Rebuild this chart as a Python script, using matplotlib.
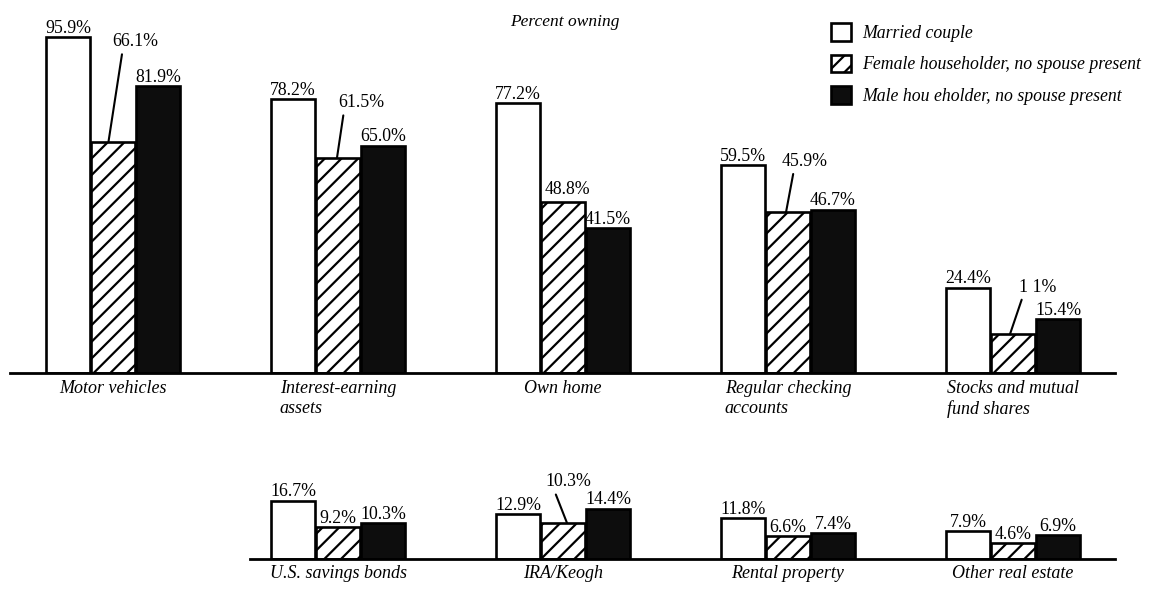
import numpy as np
import matplotlib
matplotlib.use("Agg")
import matplotlib.pyplot as plt
from matplotlib.patches import Patch

# ---------------- data ----------------
title = "Percent owning"
series_names = ["Married couple",
                "Female householder, no spouse present",
                "Male hou eholder, no spouse present"]

top_categories = ["Motor vehicles", "Interest-earning\nassets", "Own home",
                  "Regular checking\naccounts", "Stocks and mutual\nfund shares"]
top_married = [95.9, 78.2, 77.2, 59.5, 24.4]
top_female = [66.1, 61.5, 48.8, 45.9, 11.1]
top_male = [81.9, 65.0, 41.5, 46.7, 15.4]
top_female_labels = ["66.1%", "61.5%", "48.8%", "45.9%", "1 1%"]

bottom_categories = ["U.S. savings bonds", "IRA/Keogh", "Rental property",
                     "Other real estate"]
bottom_married = [16.7, 12.9, 11.8, 7.9]
bottom_female = [9.2, 10.3, 6.6, 4.6]
bottom_male = [10.3, 14.4, 7.4, 6.9]
bottom_female_labels = ["9.2%", "10.3%", "6.6%", "4.6%"]

# ---------------- style ----------------
plt.rcParams["font.family"] = ["Liberation Serif", "DejaVu Serif"]
plt.rcParams["hatch.linewidth"] = 1.6
PX = 0.72  # points per pixel at dpi 100
W, H = 1152, 594
PXPCT = 3.5  # pixels per percent
NUMSIZE = 12.8
LABSIZE = 13

fig = plt.figure(figsize=(W / 100, H / 100), dpi=100)

# leader-line specs for female labels: (line dx px, text dx px, text dy px, relpos x, draw line)
top_specs = {0: (-4.5, 27, 100, 0.22, True),
             1: (-1, 24, 55, 0.13, True),
             2: (0, 4, 13, 0.5, False),
             3: (-2, 19, 51, 0.26, True),
             4: (-3, 28, 47, 0.10, True)}
bottom_specs = {1: (4, 1, 41, 0.2, True)}

GX0, GSP = 113, 225  # pixel centre of group 0 and spacing


def make_axes(left_px, right_px, base_px, height_px, first_idx):
    ax = fig.add_axes([left_px / W, 1 - base_px / H, (right_px - left_px) / W, height_px / H])
    ax.set_xlim(first_idx + (left_px - (GX0 + GSP * first_idx)) / GSP,
                first_idx + (right_px - (GX0 + GSP * first_idx)) / GSP)
    ax.set_ylim(0, height_px / PXPCT)
    for s in ["top", "left", "right"]:
        ax.spines[s].set_visible(False)
    ax.spines["bottom"].set_linewidth(2)
    ax.set_yticks([])
    ax.patch.set_alpha(0)
    return ax


def draw_row(ax, idx, married, female, male, cats, female_labels, specs, pad):
    x = np.array(idx, dtype=float)
    w = 44 / GSP
    off = 45 / GSP
    ax.bar(x - off, married, w, facecolor="white", edgecolor="black", lw=1.9, zorder=2)
    ax.bar(x, female, w, facecolor="white", edgecolor="black", hatch="//", lw=1.9, zorder=2)
    ax.bar(x + off, male, w, facecolor="#0d0d0d", edgecolor="black", lw=1.9, zorder=2)
    for xi, v in zip(x - off, married):
        ax.annotate(f"{v:.1f}%", (xi, v), xytext=(0, 3), textcoords="offset points",
                    ha="center", va="baseline", fontsize=NUMSIZE, annotation_clip=False)
    for xi, v in zip(x + off, male):
        ax.annotate(f"{v:.1f}%", (xi, v), xytext=(0, 3), textcoords="offset points",
                    ha="center", va="baseline", fontsize=NUMSIZE, annotation_clip=False)
    for k, (xi, v, lab) in enumerate(zip(x, female, female_labels)):
        if k in specs:
            ldx, tdx, tdy, rp, line = specs[k]
            kw = {}
            if line:
                kw["arrowprops"] = dict(arrowstyle="-", lw=1.5, color="black",
                                        shrinkA=1, shrinkB=0, relpos=(rp, 0.0))
            ax.annotate(lab, (xi + ldx / GSP, v), xytext=(tdx * PX, tdy * PX),
                        textcoords="offset points", ha="center", va="center",
                        fontsize=NUMSIZE, annotation_clip=False, **kw)
        else:
            ax.annotate(lab, (xi, v), xytext=(0, 3), textcoords="offset points",
                        ha="center", va="baseline", fontsize=NUMSIZE, annotation_clip=False)
    ax.set_xticks(x)
    ax.set_xticklabels(cats, fontsize=LABSIZE, fontstyle="italic", linespacing=1.25)
    for t in ax.get_xticklabels():
        t.set_multialignment("left")
    ax.tick_params(axis="x", length=0, pad=pad)


ax_top = make_axes(10, 1115, 373, 373, 0)
draw_row(ax_top, range(len(top_categories)), top_married, top_female, top_male,
         top_categories, top_female_labels, top_specs, 5)

ax_bot = make_axes(250, 1115, 559, 100, 1)
draw_row(ax_bot, range(1, 1 + len(bottom_categories)), bottom_married, bottom_female,
         bottom_male, bottom_categories, bottom_female_labels, bottom_specs, 4)

fig.text(565 / W, 1 - 22 / H, title, ha="center", va="center", fontsize=12.5,
         fontstyle="italic")

handles = [Patch(facecolor="white", edgecolor="black", lw=1.9),
           Patch(facecolor="white", edgecolor="black", hatch="//", lw=1.9),
           Patch(facecolor="#0d0d0d", edgecolor="black", lw=1.9)]
leg = fig.legend(handles, series_names, loc="upper left",
                 bbox_to_anchor=(831 / W, 1 - 23 / H), frameon=False,
                 prop=dict(size=12.8, style="italic"), handlelength=1.15,
                 handleheight=1.15, handletextpad=0.6, labelspacing=0.72,
                 borderpad=0, borderaxespad=0)

fig.savefig("out.png", dpi=100)
